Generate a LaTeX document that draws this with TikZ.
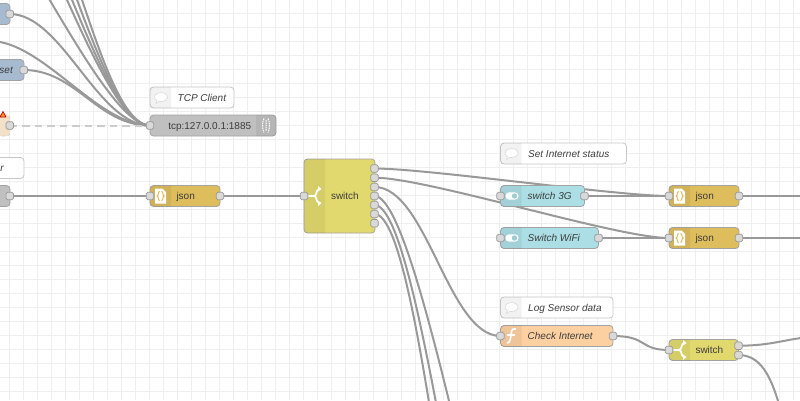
\documentclass[tikz,border=0pt]{standalone}
\usepackage{fontspec}
\setmainfont{Liberation Sans}
\pgfdeclarelayer{gridlayer}
\pgfdeclarelayer{wirelayer}
\pgfsetlayers{gridlayer,wirelayer,main}
\definecolor{wirecol}{HTML}{999999}
\definecolor{edgecol}{HTML}{A3A3A3}
\definecolor{gridcol}{HTML}{EFEFEF}
\definecolor{txtcol}{HTML}{3C3C3C}
\definecolor{bluenode}{HTML}{A6BBCF}
\definecolor{graynode}{HTML}{C0C0C0}
\definecolor{jsonnode}{HTML}{DEBD5C}
\definecolor{switchnode}{HTML}{E2D96E}
\definecolor{tealnode}{HTML}{ACDEE5}
\definecolor{funcnode}{HTML}{FDD0A2}
\definecolor{offnode}{HTML}{F3E0C8}
\tikzset{
  x=1pt,y=-1pt,
  gridline/.style={draw=gridcol,line width=1.1pt},
  wireline/.style={draw=wirecol,line width=2pt},
  deadline/.style={draw=black!20,line width=2pt,dash pattern=on 7.5pt off 5pt},
  flowbox/.style={rectangle,draw=edgecol,line width=.8pt,rounded corners=3.5pt,minimum height=21pt,inner sep=0pt,outer sep=0pt},
  notebox/.style={flowbox,fill=white,draw=black!22},
  portbox/.style={rectangle,draw=wirecol,line width=.7pt,fill=black!15,rounded corners=1.6pt,minimum size=7.5pt,inner sep=0pt,outer sep=0pt},
  flowtext/.style={inner sep=0pt,outer sep=0pt,anchor=base west,text=txtcol,font=\fontsize{10}{12}\selectfont},
  flowital/.style={flowtext,font=\fontsize{10}{12}\selectfont\itshape},
  iconshade/.style={fill=black,fill opacity=.055},
  glyph/.style={draw=white,line width=1.7pt,line cap=round},
}
% name, left, centre y, width, fill
\newcommand{\flowbody}[5]{%
  \node[flowbox,fill=#5,minimum width=#4pt,anchor=west] (#1) at (#2,#3) {};
  \fill[iconshade] (#2+21,#3-10.5) [rounded corners=3pt] -- (#2,#3-10.5) -- (#2,#3+10.5) [sharp corners] -- (#2+21,#3+10.5) -- cycle;
}
% name, left, centre y, width, text
\newcommand{\notenode}[5]{%
  \node[notebox,minimum width=#4pt,anchor=west] (#1) at (#2,#3) {};
  \fill[iconshade,fill opacity=.05] (#2+21,#3-10.5) [rounded corners=3pt] -- (#2,#3-10.5) -- (#2,#3+10.5) [sharp corners] -- (#2+21,#3+10.5) -- cycle;
  \draw[draw=black!14,fill=white,line width=.6pt] (#2+4.5,#3) .. controls (#2+4.5,#3-6.5) and (#2+17.5,#3-6.5) .. (#2+17.5,#3) .. controls (#2+17.5,#3+3) and (#2+12,#3+4.5) .. (#2+9,#3+4) -- (#2+6,#3+6) -- (#2+7,#3+3) .. controls (#2+5.5,#3+2.5) and (#2+4.5,#3+1) .. (#2+4.5,#3) -- cycle;
  \node[flowital] (#1-txt) at (#2+27.7,#3+3.5) {#5};
}
\newcommand{\jsonicon}[2]{%
  \fill[white] (#1+5,#2-7.5) -- (#1+12.5,#2-7.5) -- (#1+16,#2-4) -- (#1+16,#2+7.5) -- (#1+5,#2+7.5) -- cycle;
  \draw[draw=jsonnode,line width=1pt] (#1+9.7,#2-4.5) .. controls (#1+7.5,#2-4.5) and (#1+9.2,#2-.5) .. (#1+7,#2) .. controls (#1+9.2,#2+.5) and (#1+7.5,#2+4.5) .. (#1+9.7,#2+4.5)
    (#1+11.5,#2-4.5) .. controls (#1+13.7,#2-4.5) and (#1+12,#2-.5) .. (#1+14.2,#2) .. controls (#1+12,#2+.5) and (#1+13.7,#2+4.5) .. (#1+11.5,#2+4.5);
}
\newcommand{\switchicon}[2]{%
  \draw[glyph] (#1+5,#2) -- (#1+10,#2) .. controls (#1+13,#2) and (#1+12,#2-6.5) .. (#1+15,#2-7)
    (#1+10,#2) .. controls (#1+13,#2) and (#1+12,#2+6.5) .. (#1+15,#2+7);
  \fill[white] (#1+14,#2-10) -- (#1+17.5,#2-7) -- (#1+14,#2-4.5) -- cycle (#1+14,#2+10) -- (#1+17.5,#2+7) -- (#1+14,#2+4.5) -- cycle;
}
\newcommand{\toggleicon}[2]{%
  \fill[white,rounded corners=3.4pt] (#1+5,#2-3.6) rectangle (#1+18,#2+3.6);
  \fill[tealnode!92!black] (#1+14,#2) circle (2.7pt);
}
\begin{document}
\begin{tikzpicture}
\useasboundingbox (0,0) rectangle (800,400);
\begin{pgfonlayer}{gridlayer}
  \fill[white] (0,0) rectangle (800,400);
  \foreach \i in {0,...,56} \draw[gridline] (9.6+14*\i,0) -- (9.6+14*\i,400);
  \foreach \i in {0,...,27} \draw[gridline] (0,13.3+14*\i) -- (800,13.3+14*\i);
\end{pgfonlayer}

% ---------- partly visible nodes on the left
\node[flowbox,fill=bluenode,minimum width=60pt,anchor=east] (blueA) at (10,14) {};
\node[flowbox,fill=bluenode,minimum width=60pt,anchor=east] (blueB) at (24,70) {};
\node[inner sep=0pt,outer sep=0pt,anchor=base east,text=txtcol,font=\fontsize{10}{12}\selectfont\itshape] (blueBtxt) at (12.8,73.5) {set};
\node[flowbox,fill=offnode,draw=black!18,dashed,minimum width=60pt,anchor=east] (offA) at (10,125.5) {};
\draw[draw=red!75!black,fill=orange!85!white,line width=.7pt,line join=round] (3,111.5) -- (6,117) -- (0,117) -- cycle;
\node[notebox,minimum width=60pt,anchor=east] (noteL) at (24,168) {};
\node[inner sep=0pt,outer sep=0pt,anchor=base east,text=txtcol,font=\fontsize{10}{12}\selectfont\itshape] (noteLtxt) at (3.8,171.5) {r};
\node[flowbox,fill=graynode,minimum width=60pt,anchor=east] (grayL) at (10,196) {};
\node[portbox] (blueAout) at (9.7,14) {};
\node[portbox] (blueBout) at (23.7,70) {};
\node[portbox] (offAout) at (9.7,125.5) {};
\node[portbox] (grayLout) at (9.7,196) {};

% ---------- comments
\notenode{noteTcp}{150}{97.5}{84}{TCP Client}
\notenode{noteNet}{500.5}{153.5}{126}{Set Internet status}
\notenode{noteLog}{500.5}{307.5}{112.5}{Log Sensor data}

% ---------- tcp out
\node[flowbox,fill=graynode,minimum width=126pt,anchor=west] (tcp) at (150,125.5) {};
\fill[iconshade] (256,115) [rounded corners=3pt] -- (276,115) -- (276,136) [sharp corners] -- (256,136) -- cycle;
\draw[draw=white,line width=1pt,dash pattern=on 1.5pt off .8pt] (264,118.5) .. controls (262,122) and (262,129) .. (264,132.5) (268,118.5) .. controls (270,122) and (270,129) .. (268,132.5) (266,120) -- (266,131);
\node[flowtext] (tcptxt) at (168.3,129) {tcp:127.0.0.1:1885};
\node[portbox] (tcpin) at (150,125.5) {};

% ---------- json 1
\flowbody{jsonA}{150}{196}{70}{jsonnode}
\jsonicon{150}{196}
\node[flowtext] (jsonAtxt) at (176.5,199.5) {json};
\node[portbox] (jsonAin) at (150,196) {};
\node[portbox] (jsonAout) at (220,196) {};

% ---------- big switch
\node[flowbox,fill=switchnode,minimum width=71pt,minimum height=74pt,anchor=west] (swBig) at (304,196) {};
\fill[iconshade] (325,159) [rounded corners=3pt] -- (304,159) -- (304,233) [sharp corners] -- (325,233) -- cycle;
\switchicon{304}{196}
\node[flowtext] (swBigtxt) at (331,199.5) {switch};
\node[portbox] (swBigin) at (304,196) {};
\node[portbox] (swP1) at (374.5,168.5) {};
\node[portbox] (swP2) at (374.5,177.7) {};
\node[portbox] (swP3) at (374.5,187) {};
\node[portbox] (swP4) at (374.5,196) {};
\node[portbox] (swP5) at (374.5,205) {};
\node[portbox] (swP6) at (374.5,214) {};
\node[portbox] (swP7) at (374.5,223.3) {};

% ---------- toggles
\flowbody{tgA}{500.5}{196}{84}{tealnode}
\toggleicon{500.5}{196}
\node[flowital] (tgAtxt) at (527.7,199.5) {switch 3G};
\node[portbox] (tgAin) at (500.5,196) {};
\node[portbox] (tgAout) at (584.5,196) {};
\flowbody{tgB}{500.5}{238}{98}{tealnode}
\toggleicon{500.5}{238}
\node[flowital] (tgBtxt) at (527.7,241.5) {Switch WiFi};
\node[portbox] (tgBin) at (500.5,238) {};
\node[portbox] (tgBout) at (598.5,238) {};

% ---------- json 2,3
\flowbody{jsonB}{669}{196}{70}{jsonnode}
\jsonicon{669}{196}
\node[flowtext] (jsonBtxt) at (695.5,199.5) {json};
\node[portbox] (jsonBin) at (669,196) {};
\node[portbox] (jsonBout) at (739,196) {};
\flowbody{jsonC}{669}{238}{70}{jsonnode}
\jsonicon{669}{238}
\node[flowtext] (jsonCtxt) at (695.5,241.5) {json};
\node[portbox] (jsonCin) at (669,238) {};
\node[portbox] (jsonCout) at (739,238) {};

% ---------- function
\flowbody{func}{500.5}{336}{112.5}{funcnode}
\draw[glyph] (515.5,329) .. controls (510,327.5) and (512,334) .. (510.5,338) .. controls (510,341) and (509.5,343) .. (507.5,343) (507.5,335) -- (514.5,335);
\node[flowital] (functxt) at (527.7,339.5) {Check Internet};
\node[portbox] (funcin) at (500.5,336) {};
\node[portbox] (funcout) at (613,336) {};

% ---------- small switch
\flowbody{swS}{669}{350}{69.5}{switchnode}
\switchicon{669}{350}
\node[flowtext] (swStxt) at (695.5,353.5) {switch};
\node[portbox] (swSin) at (669,350) {};
\node[portbox] (swSo1) at (738.5,345.7) {};
\node[portbox] (swSo2) at (738.5,355) {};

% ---------- free wire ends
\coordinate (srcA) at (-27,-150);
\coordinate (srcB) at (-16,-150);
\coordinate (srcC) at (-5,-150);
\coordinate (srcD) at (6,-150);
\coordinate (srcE) at (-65,-150);
\coordinate (srcF) at (-10,41);
\coordinate (outB) at (860,196);
\coordinate (outC) at (860,238);
\coordinate (dn4) at (570,800);
\coordinate (dn5) at (534,800);
\coordinate (dn6) at (516,800);
\coordinate (outS1) at (830,336);
\coordinate (dnS2) at (826,475);

\begin{pgfonlayer}{wirelayer}
  \foreach \a in {srcA,srcB,srcC,srcD,srcE,srcF}
    \draw[wireline] (\a) .. controls +(52.5,0) and +(-52.5,0) .. (tcpin.center);
  \foreach \a in {blueAout,blueBout}
    \draw[wireline] (\a.center) .. controls +(52.5,0) and +(-52.5,0) .. (tcpin.center);
  \draw[deadline] (offAout.center) -- (tcpin.center);
  \draw[wireline] (grayLout.center) -- (jsonAin.center);
  \draw[wireline] (jsonAout.center) -- (swBigin.center);
  \draw[wireline] (swP1.center) .. controls +(52.5,0) and +(-52.5,0) .. (jsonBin.center);
  \draw[wireline] (swP2.center) .. controls +(52.5,0) and +(-52.5,0) .. (jsonCin.center);
  \draw[wireline] (swP3.center) .. controls +(52.5,0) and +(-52.5,0) .. (funcin.center);
  \draw[wireline] (swP4.center) .. controls +(52.5,0) and +(-52.5,0) .. (dn4);
  \draw[wireline] (swP5.center) .. controls +(52.5,0) and +(-52.5,0) .. (dn5);
  \draw[wireline] (swP6.center) .. controls +(52.5,0) and +(-52.5,0) .. (dn6);
  \draw[wireline] (tgAout.center) -- (jsonBin.center);
  \draw[wireline] (tgBout.center) -- (jsonCin.center);
  \draw[wireline] (jsonBout.center) -- (outB);
  \draw[wireline] (jsonCout.center) -- (outC);
  \draw[wireline] (funcout.center) .. controls +(35,0) and +(-30,0) .. (swSin.center);
  \draw[wireline] (swSo1.center) .. controls +(40,0) and +(-40,0) .. (outS1);
  \draw[wireline] (swSo2.center) .. controls +(52.5,0) and +(-52.5,0) .. (dnS2);
\end{pgfonlayer}
\end{tikzpicture}
\end{document}
